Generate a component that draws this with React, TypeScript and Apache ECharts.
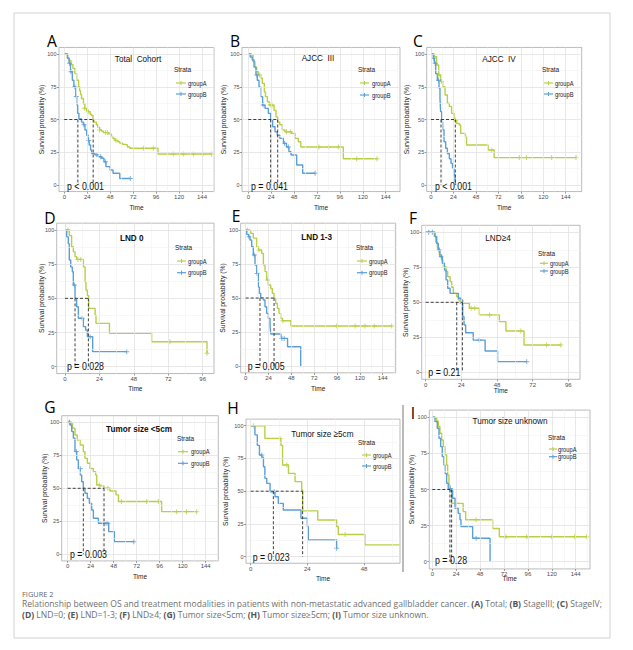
import React, { useEffect, useRef } from "react";
import * as echarts from "echarts";

const GREEN = "#b9cf46";
const BLUE = "#5b9fd6";
const FONT = "Liberation Sans";

const X144 = [0, 24, 48, 72, 96, 120, 144];
const X96 = [0, 24, 48, 72, 96];
const X48 = [0, 24, 48];
const Y_TICKS = [0, 25, 50, 75, 100];

const PANEL_LETTERS = ["A", "B", "C", "D", "E", "F", "G", "H", "I"];
const PANEL_TITLES = ["Total  Cohort", "AJCC  III", "AJCC  IV", "LND 0", "LND 1-3", "LND\u22654", "Tumor size <5cm", "Tumor size \u22655cm", "Tumor size unknown"];
const P_VALUES = ["p < 0.001", "p = 0.041", "p < 0.001", "p = 0.028", "p = 0.005", "p = 0.21", "p = 0.003", "p = 0.023", "p = 0.28"];
const STRATA = ["groupA", "groupB"];

// ---- A: Total Cohort
const A_groupA = [[0,100],[3,97],[5,95],[7,92],[9,89],[11,85],[13,80],[15,75],[16,72],[17,69],[18,66],[20,62],[21.5,58.5],[23,57],[25,56],[27,54],[28.5,53],[30,50],[31,48],[33.5,46],[35,44],[37,42],[39,41],[41,40],[46,39],[49,37],[51,35.5],[53,34],[56,33],[58,32],[61,31],[63.5,30.5],[66,29],[68.5,28],[98,23.7],[154,23.7]];
const A_groupB = [[0,100],[3.5,96.7],[5,93],[6.5,86.5],[8.4,80],[10,75],[12,67.5],[13,61],[14,54.7],[15.3,50.4],[18,48],[20,46],[21.6,42],[23.4,38],[25,34],[26,30.5],[27.5,26.7],[28.6,24],[32,23],[35.6,21.6],[39,20.4],[41.5,17.8],[43.6,14],[47.8,11.5],[51,9],[58,5],[69,5]];
const A_censorA = [[21,58.5],[25,56],[37,42],[43,40],[45,40],[54,34],[83,28],[93,28],[114,23.7],[124.5,23.7],[135,23.7],[145,23.7],[154,23.7]];
const A_censorB = [[5.5,93],[7,86.5],[11,75],[12.5,67.5],[20.5,46],[25.5,34],[34,23],[38,21.6],[43,17.8],[69,5]];
const A_medians = [14.2, 30.2];

// ---- B: AJCC III
const B_groupA = [[0,100],[3.5,99],[5,94],[7,90],[8.7,86.5],[10.5,84],[13,81.5],[14.7,77.6],[16.8,71],[18,67.5],[20,63.6],[22,61],[27,57],[29,52],[30.8,48],[33,46],[35.6,42],[38.4,40.7],[45.4,39.4],[49,35.6],[52.4,33],[55,29],[99.6,20],[135,20]];
const B_groupB = [[0,100],[2,97.7],[4.2,95.4],[6,90],[8,84],[9.4,80],[11.2,75],[13,67.5],[15,61],[17.5,58.5],[21,54.7],[23.4,49.6],[25.5,44.5],[28,40.7],[30.4,38],[33,35.6],[36.7,31.8],[40,29],[42.6,25.4],[44.7,22.9],[50.7,15.3],[57,9],[70,9]];
const B_censorA = [[12,84],[23,61],[25,61],[40,40.7],[44,40.7],[74,29],[84,29],[94.4,29],[113.6,20],[135,20]];
const B_censorB = [[9,84],[15.5,61],[38,31.8],[42,29],[70,9]];
const B_medians = [23.4, 30.8];

// ---- C: AJCC IV
const C_groupA = [[0,100],[3.6,98],[6,91.6],[8.2,84],[10.3,79],[12.5,75],[15,68.7],[17.5,62.4],[19.6,60],[22,54.7],[24.6,49.6],[27.4,47],[30.3,45.8],[31.7,39.4],[36.4,37],[38,30.5],[61,26.7],[67.5,20.9],[155,20.9]];
const C_groupB = [[0,100],[2.5,96.7],[3.6,93],[5,85],[6.8,80],[8.6,74],[9.6,66],[10.3,56],[11.4,48],[12.5,42],[13.9,33],[15.7,28],[17.5,24],[19.6,20],[21.4,16.5],[23,12.7],[24.6,7.6],[25.7,3.8],[26.4,0]];
const C_censorA = [[8.5,84],[11,79],[26,49.6],[65,26.7],[94.4,20.9],[102,20.9],[129,20.9],[155,20.9]];
const C_censorB = [[3,96.7],[4.5,93],[8,80]];
const C_medians = [10.7, 26];

// ---- D: LND 0
const D_groupA = [[0,100],[3,96],[4.6,87.8],[5.8,84],[7,80.5],[8.1,78.5],[12.8,73],[14,62],[14.6,56],[15.6,52],[16.5,42.7],[21,37.8],[21.6,31.7],[31,24.4],[60.4,18.3],[99,9.8]];
const D_groupB = [[0,100],[1.2,95],[2.3,90],[3,78],[4,73],[5.1,69.5],[5.8,59.8],[7,50],[8.1,43.9],[9.3,35.4],[12.8,29.3],[14.4,26.8],[15.6,22],[19.3,11],[43,11]];
const D_censorA = [[2,100],[9,78.5],[11,78.5],[73.2,18.3],[99,9.8]];
const D_censorB = [[6.5,59.8],[12,35.4],[17.5,22],[43,11]];
const D_medians = [7, 16.3];

// ---- E: LND 1-3
const E_groupA = [[0,100],[3.5,99.5],[5.3,97.5],[8,94],[11.6,87.7],[13.3,85.3],[16.8,82.8],[18.6,74.3],[20.3,69.4],[22,63.2],[23.8,59.6],[26.3,57],[28,53.4],[29.8,49.8],[31.5,46],[33.3,42.4],[35,38.7],[36.8,35],[38.5,33.3],[47.6,29.4],[153.5,29.4]];
const E_groupB = [[0,100],[1,96.8],[3,95],[4.5,92.6],[6.3,87.7],[8,81.6],[9.8,74.3],[11.6,68],[13.3,58],[14.4,53.4],[15.8,49.8],[18.6,48.5],[20.3,43.6],[22,38.7],[23.8,35],[25.6,30],[26.3,23.5],[37,20.3],[44,14.2],[57.8,0]];
const E_censorA = [[2,100],[14,85.3],[23,63.2],[39,33.3],[95.7,29.4],[115,29.4],[125.4,29.4],[135,29.4],[153.5,29.4]];
const E_censorB = [[3.5,95],[9,81.6],[12,68],[38,20.3],[40.5,20.3]];
const E_medians = [15, 29.8];

// ---- F: LND>=4
const F_groupA = [[0,100],[5.8,97],[6.7,93],[7.9,88.6],[9.2,83.8],[10.8,80.2],[11.9,75.5],[13.7,72],[14.8,68.3],[16.4,64.8],[17.5,60.7],[18.6,56.4],[20.9,54],[22,51.7],[23.1,49.3],[29.4,45.7],[36.1,41],[49.6,36.2],[54,29.5],[66.2,19.5],[91,19.5]];
const F_groupB = [[0,100],[6.3,97],[7.4,92],[8.5,87.4],[9.6,82.6],[11.2,77.9],[12.6,73],[13.7,66],[14.8,60],[16.4,56.4],[22,52.9],[23.8,51.7],[24.9,39.8],[25.8,33.8],[26.9,28.3],[32,23],[40,15.2],[48.4,7.6],[68,7.6]];
const F_censorA = [[30.6,45.7],[33,45.7],[43,41],[64,29.5],[81.4,19.5],[91,19.5]];
const F_censorB = [[2,100],[4.5,100],[9,87.4],[10.5,82.6],[36,23],[68,7.6]];
const F_medians = [20.9, 24.7];

// ---- G: Tumor size <5cm
const G_groupA = [[0,100],[3,99],[5,95.5],[7.6,90.4],[10,86.6],[12.9,82.8],[16.3,77.8],[18,72.7],[20.5,69],[23.3,65],[26.8,62.6],[29.2,60],[30.3,52.5],[33.7,51.8],[37.9,50],[44,48],[50.4,45],[52.9,40],[98,32.3],[134.6,32.3]];
const G_groupB = [[0,100],[2.4,98],[4.2,93],[5.9,88],[7.6,77.8],[9.4,71.5],[11.1,65],[12.9,60],[14.6,55],[16.3,50],[18,46.2],[20.5,42.4],[22.6,38.6],[25,33.6],[26.8,27.3],[32,23.5],[42.8,17.2],[48.7,9.6],[69,9.6]];
const G_censorA = [[1.5,100],[33,52.5],[42,50],[56,40],[82.4,40],[94.6,40],[113.7,32.3],[124,32.3],[134.6,32.3]];
const G_censorB = [[2,100],[9,77.8],[13,65],[40,23.5],[42,23.5],[69,9.6]];
const G_medians = [16.3, 37.9];

// ---- H: Tumor size >=5cm
const H_groupA = [[0,100],[6,90.3],[12.8,85],[13.5,70],[16,63.6],[18.8,57.3],[21.6,51],[22,35],[28.4,28],[36.4,23],[37.1,17],[48.4,9],[63,9]];
const H_groupB = [[0,100],[1.8,93],[2.8,85],[3.7,77.6],[4.7,76],[5.4,68.7],[6,59.8],[6.8,56],[8.2,49.6],[10.3,45.8],[11.7,40.7],[13.8,35.6],[21.3,29.3],[24,23],[24.4,12.7],[36.4,6.4]];
const H_censorA = [[1.1,100],[12.4,90.3],[15.3,70],[40,17]];
const H_censorB = [[4.7,77.6],[10,49.6],[36.4,6.4]];
const H_medians = [9.6, 22];

// ---- I: Tumor size unknown
const I_groupA = [[0,100],[2.7,99.3],[4.4,97.5],[6,93.6],[7.7,89],[9.4,84.3],[11,79.7],[12.7,74],[14.4,67],[15.4,60],[16.7,53],[17.7,49.7],[19.4,40.4],[31,34.7],[33.5,29],[60.6,23],[67.3,17.3],[155,17.3]];
const I_groupB = [[0,100],[2.7,97],[5,92.4],[6.7,85.5],[8.4,79.7],[10,72.8],[11.7,67],[12.7,61],[14.4,54.3],[16,50.4],[20.4,43.9],[22.8,37],[26,33.5],[27.8,29],[28.8,24.3],[40.5,16.2],[58,0]];
const I_censorA = [[24,40.4],[44,29],[74,17.3],[94.8,17.3],[120,17.3],[143,17.3],[155,17.3]];
const I_censorB = [[18,50.4],[44,16.2]];
const I_medians = [17.7, 19.4];

const PANELS = [
  { a: A_groupA, b: A_groupB, ca: A_censorA, cb: A_censorB, med: A_medians, ticks: X144 },
  { a: B_groupA, b: B_groupB, ca: B_censorA, cb: B_censorB, med: B_medians, ticks: X144 },
  { a: C_groupA, b: C_groupB, ca: C_censorA, cb: C_censorB, med: C_medians, ticks: X144 },
  { a: D_groupA, b: D_groupB, ca: D_censorA, cb: D_censorB, med: D_medians, ticks: X96 },
  { a: E_groupA, b: E_groupB, ca: E_censorA, cb: E_censorB, med: E_medians, ticks: X144 },
  { a: F_groupA, b: F_groupB, ca: F_censorA, cb: F_censorB, med: F_medians, ticks: X96 },
  { a: G_groupA, b: G_groupB, ca: G_censorA, cb: G_censorB, med: G_medians, ticks: X144 },
  { a: H_groupA, b: H_groupB, ca: H_censorA, cb: H_censorB, med: H_medians, ticks: X48 },
  { a: I_groupA, b: I_groupB, ca: I_censorA, cb: I_censorB, med: I_medians, ticks: X144 },
];

// layout (pixels): axis calibration, box edges, text anchors
// leg: [strataX, strataY, symFrom, symTo, textX, yA, yB]
const LAYOUT = [
  { x0: 64.3, xr: 202, xv: 144, l: 59, r: 214, y0: 185, y100: 54, letter: [52, 41], title: [138, 59], bold: false, leg: [174, 69, 176, 186, 188, 83, 94], p: [67, 186], ylab: 41.7, time: 207 },
  { x0: 248.3, xr: 385.7, xv: 144, l: 242, r: 400, y0: 185, y100: 54, letter: [235, 41], title: [318, 58], bold: false, leg: [358, 69, 360, 369, 372, 83, 95], p: [251, 185.7], ylab: 223, time: 207 },
  { x0: 431, xr: 565.7, xv: 144, l: 426.7, r: 581.7, y0: 185, y100: 54, letter: [418, 41], title: [499, 59], bold: false, leg: [542, 69, 544, 553, 555, 83, 94], p: [435, 185.7], ylab: 406.7, time: 207 },
  { x0: 65, xr: 202.7, xv: 96, l: 56.7, r: 214, y0: 366.7, y100: 230, letter: [50, 218], title: [131.7, 237.7], bold: true, leg: [175, 247.7, 177, 186, 188, 261, 272.7], p: [67, 365.7], ylab: 41.7, time: 388 },
  { x0: 245.7, xr: 382.7, xv: 144, l: 240.7, r: 395.7, y0: 366, y100: 230, letter: [236, 216], title: [316.7, 236.7], bold: true, leg: [356, 247.7, 357, 367, 369, 261, 272.7], p: [247.7, 365.7], ylab: 222, time: 388 },
  { x0: 425.7, xr: 568.3, xv: 96, l: 421.7, r: 580, y0: 372.3, y100: 232.3, letter: [413, 218], title: [498, 237.7], bold: false, leg: [538, 253.3, 540, 548, 550, 263.3, 271], p: [428.3, 372.3], ylab: 405, time: 390 },
  { x0: 67.7, xr: 205.7, xv: 144, l: 61.7, r: 218.3, y0: 554.3, y100: 422.3, letter: [50, 407], title: [139, 428.3], bold: true, leg: [177, 438.3, 178, 188, 191, 451.7, 463.3], p: [70, 554], ylab: 44, time: 576 },
  { x0: 250.7, xr: 364, xv: 48, l: 246, r: 400, y0: 556.7, y100: 425.7, letter: [233, 408], title: [322.3, 433.3], bold: false, leg: [358, 442.3, 362, 371, 373, 455, 466], p: [252.7, 557.3], ylab: 225.7, time: 578 },
  { x0: 432.3, xr: 575.7, xv: 144, l: 429.3, r: 590, y0: 561.7, y100: 417.3, letter: [413, 413], title: [510, 421], bold: false, leg: [548, 437.7, 549, 557, 558, 449, 456.7], p: [435, 560], ylab: 411.7, time: 578 },
];

const PLUS = "path://M4,0H6V4H10V6H6V10H4V6H0V4H4Z";
const SQX = 0.87;

function minorOf(ticks: number[], lo: number, hi: number) {
  const out: number[] = [];
  for (let k = 0; k < ticks.length - 1; k++) out.push((ticks[k] + ticks[k + 1]) / 2);
  const step = ticks[1] - ticks[0];
  const last = ticks[ticks.length - 1] + step / 2;
  if (last < hi) out.push(last);
  const first = ticks[0] - step / 2;
  if (first > lo) out.unshift(first);
  return out;
}

function txt(x: number, y: number, text: string, o: any = {}) {
  return {
    type: "text",
    x,
    y,
    scaleX: o.scaleX ?? 1,
    rotation: o.rotation ?? 0,
    silent: true,
    z: 50,
    style: {
      text,
      fontSize: o.fontSize ?? 7,
      fontFamily: o.fontFamily ?? FONT,
      fontWeight: o.fontWeight ?? "normal",
      fill: o.fill ?? "#222",
      align: o.align ?? "left",
      verticalAlign: "middle",
      rich: o.rich,
    },
  };
}

function buildOption() {
  const grid: any[] = [];
  const xAxis: any[] = [];
  const yAxis: any[] = [];
  const series: any[] = [];
  const graphic: any[] = [];

  PANELS.forEach((pd, i) => {
    const L = LAYOUT[i];
    const sx = (L.xr - L.x0) / L.xv;
    const sy = (L.y0 - L.y100) / 100;
    const xMin = (L.l - L.x0) / sx;
    const xMax = (L.r - L.x0) / sx;
    const top = L.y100 - 5 * sy;
    const height = 110 * sy;
    grid.push({ left: L.l, top, width: L.r - L.l, height, show: true, backgroundColor: "#fff", borderColor: "#a9a9a9", borderWidth: 0.8, containLabel: false });
    xAxis.push({
      type: "value", gridIndex: i, min: xMin, max: xMax,
      axisLine: { show: false, onZero: false },
      splitLine: { show: false },
      axisTick: { show: true, customValues: pd.ticks, length: 2, lineStyle: { color: "#555", width: 0.6 } },
      axisLabel: { customValues: pd.ticks, fontSize: 6, color: "#4d4d4d", margin: 2.5, fontFamily: FONT },
    });
    yAxis.push({
      type: "value", gridIndex: i, min: -5, max: 105,
      axisLine: { show: false, onZero: false },
      splitLine: { show: false },
      axisTick: { show: true, customValues: Y_TICKS, length: 2, lineStyle: { color: "#555", width: 0.6 } },
      axisLabel: { customValues: Y_TICKS, fontSize: 5.5, color: "#4d4d4d", margin: 2.5, fontFamily: FONT },
    });

    const minorX = minorOf(pd.ticks, xMin, xMax);
    const minorY = minorOf(Y_TICKS, -5, 105);
    const minorStyle = { color: "#f2f2f2", width: 0.6, type: "solid" };
    const majorStyle = { color: "#e2e2e2", width: 0.8, type: "solid" };
    series.push({
      type: "line", xAxisIndex: i, yAxisIndex: i, data: [], silent: true, z: 1,
      markLine: {
        silent: true, symbol: ["none", "none"], label: { show: false }, animation: false,
        data: [
          ...minorX.map((v) => ({ xAxis: v, lineStyle: minorStyle })),
          ...minorY.map((v) => ({ yAxis: v, lineStyle: minorStyle })),
          ...pd.ticks.map((v) => ({ xAxis: v, lineStyle: majorStyle })),
          ...Y_TICKS.map((v) => ({ yAxis: v, lineStyle: majorStyle })),
        ],
      },
    });

    const stepLine = (data: number[][], color: string, name: string) => ({
      type: "line", name, xAxisIndex: i, yAxisIndex: i, data, step: "end", symbol: "none", silent: true, z: 3,
      lineStyle: { color, width: 1.4 }, itemStyle: { color },
    });
    series.push(stepLine(pd.a, GREEN, STRATA[0]));
    series.push(stepLine(pd.b, BLUE, STRATA[1]));

    const censor = (data: number[][], color: string) => ({
      type: "scatter", xAxisIndex: i, yAxisIndex: i, data, symbol: PLUS, symbolSize: 5, silent: true, z: 4,
      itemStyle: { color },
    });
    series.push(censor(pd.ca, GREEN));
    series.push(censor(pd.cb, BLUE));

    const dash = { color: "#2a2a2a", width: 0.9, type: [3, 2] };
    const mMax = Math.max(...pd.med);
    series.push({ type: "line", xAxisIndex: i, yAxisIndex: i, data: [[0, 50], [mMax, 50]], symbol: "none", silent: true, z: 5, lineStyle: dash });
    pd.med.forEach((m) => {
      series.push({ type: "line", xAxisIndex: i, yAxisIndex: i, data: [[m, 50], [m, 0]], symbol: "none", silent: true, z: 5, lineStyle: dash });
    });

    // texts
    graphic.push(txt(L.letter[0], L.letter[1], PANEL_LETTERS[i], { fontSize: 17, fontFamily: "Open Sans", align: "center", fill: "#000", scaleX: 0.92 }));
    graphic.push(txt(L.title[0], L.title[1], PANEL_TITLES[i], { fontSize: 9.4, align: "center", fill: "#111", fontWeight: L.bold ? "bold" : "normal", scaleX: SQX }));
    graphic.push(txt(L.p[0], L.p[1], P_VALUES[i], { fontSize: 11, fill: "#111", scaleX: 0.8 }));
    graphic.push(txt(L.ylab, (top + top + height) / 2, "Survival probability (%)", { fontSize: 6.8, align: "center", rotation: Math.PI / 2 }));
    graphic.push(txt((L.l + L.r) / 2, L.time, "Time", { fontSize: 7.5, align: "center", scaleX: SQX }));

    const [sX, sY, f, t, tx, yA, yB] = L.leg;
    graphic.push(txt(sX, sY, "Strata", { fontSize: 7.4, scaleX: SQX }));
    [[yA, GREEN, STRATA[0]], [yB, BLUE, STRATA[1]]].forEach(([yy, col, name]: any) => {
      const mid = (f + t) / 2;
      graphic.push({ type: "line", silent: true, z: 50, shape: { x1: f, y1: yy, x2: t, y2: yy }, style: { stroke: col, lineWidth: 1.2 } });
      graphic.push({ type: "line", silent: true, z: 50, shape: { x1: mid, y1: yy - 2, x2: mid, y2: yy + 2 }, style: { stroke: col, lineWidth: 1 } });
      graphic.push(txt(tx, yy, name, { fontSize: 6.6, scaleX: SQX }));
    });
  });

  // frame and inset border
  graphic.push({ type: "rect", silent: true, z: 0, shape: { x: 14, y: 13, width: 596, height: 625 }, style: { fill: "none", stroke: "#d2d2d2", lineWidth: 1 } });
  graphic.push({ type: "line", silent: true, z: 50, shape: { x1: 403, y1: 405, x2: 403, y2: 572 }, style: { stroke: "#777", lineWidth: 1 } });

  // caption
  const capFont = "Open Sans";
  const CAP = 8.55;
  const rich = { b: { fontWeight: "bold", fontSize: CAP, fontFamily: capFont, fill: "#555" } };
  graphic.push(txt(22, 594, "FIGURE 2", { fontSize: 7.4, fontFamily: capFont, fill: "#666" }));
  graphic.push(txt(22, 603.5, "Relationship between OS and treatment modalities in patients with non-metastatic advanced gallbladder cancer. {b|(A)} Total; {b|(B)} StageIII; {b|(C)} StageIV;", { fontSize: CAP, fontFamily: capFont, fill: "#707070", rich }));
  graphic.push(txt(22, 614.5, "{b|(D)} LND=0; {b|(E)} LND=1-3; {b|(F)} LND\u22654; {b|(G)} Tumor size<5cm; {b|(H)} Tumor size\u22655cm; {b|(I)} Tumor size unknown.", { fontSize: CAP, fontFamily: capFont, fill: "#707070", rich }));

  return { animation: false, backgroundColor: "#fff", grid, xAxis, yAxis, series, graphic };
}

export default function App() {
  const ref = useRef<HTMLDivElement>(null);
  useEffect(() => {
    if (!ref.current) return;
    const chart = echarts.init(ref.current, null, { renderer: "svg", width: 633, height: 650 });
    chart.setOption(buildOption() as any);
    return () => chart.dispose();
  }, []);
  return <div ref={ref} style={{ position: "absolute", left: 0, top: 0, width: 633, height: 650, background: "#fff" }} />;
}
